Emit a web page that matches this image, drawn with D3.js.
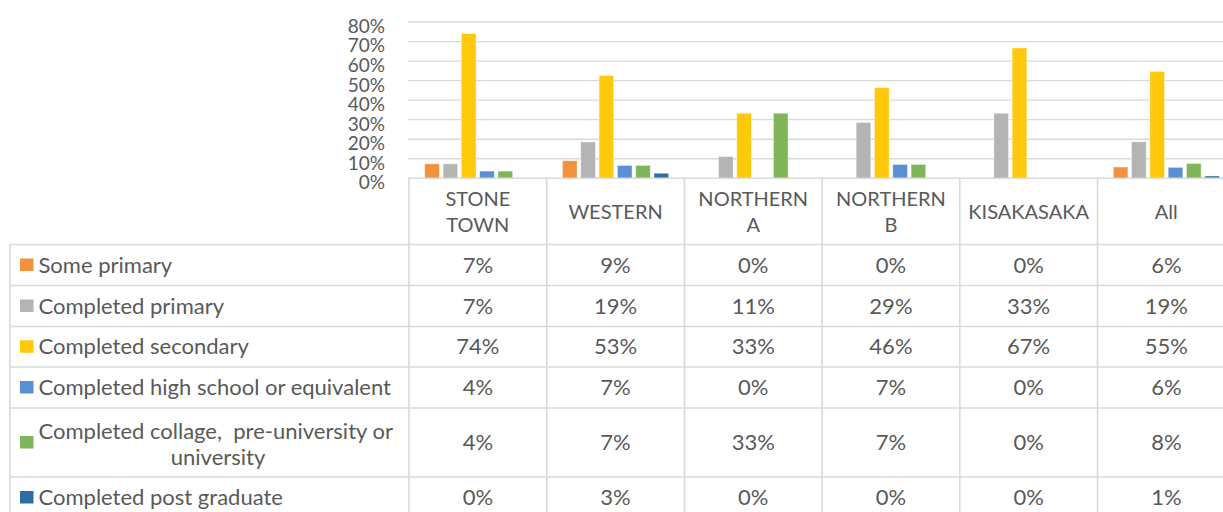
<!DOCTYPE html>
<html>
<head>
<meta charset="utf-8">
<script src="https://cdn.jsdelivr.net/npm/d3@7"></script>
<style>
  body { margin: 0; background: #fff; }
  text { font-family: Lato, "Noto Sans", sans-serif; fill: #595959; white-space: pre; }
</style>
</head>
<body>
<div class="edu-graph"></div>
<script>
const categories = ["STONE TOWN", "WESTERN", "NORTHERN A", "NORTHERN B", "KISAKASAKA", "All"];
const seriesNames = [
  "Some primary",
  "Completed primary",
  "Completed secondary",
  "Completed high school or equivalent",
  "Completed collage,  pre-university or university",
  "Completed post graduate"
];
const somePrimary = [7.4, 9.0, 0, 0, 0, 5.8];
const completedPrimary = [7.4, 18.6, 11.1, 28.6, 33.3, 18.7];
const completedSecondary = [74.1, 52.6, 33.3, 46.4, 66.7, 54.7];
const completedHighSchool = [3.7, 6.6, 0, 7.1, 0, 5.6];
const completedCollege = [3.7, 6.6, 33.3, 7.1, 0, 7.6];
const completedPostGrad = [0, 2.6, 0, 0, 0, 1.2];
const yTicks = [0, 10, 20, 30, 40, 50, 60, 70, 80];
const colors = ["#f4913f", "#b4b4b4", "#ffc80a", "#5b8fd5", "#80b65a", "#2f6da4"];

const seriesValues = [somePrimary, completedPrimary, completedSecondary,
  completedHighSchool, completedCollege, completedPostGrad];

const width = 1223, height = 512;
const plotLeft = 409, colW = 137.7;
const plotTop = 22, plotBottom = 178.3;
const tableLeft = 10;
const rowLines = [244.5, 285.5, 326.5, 367, 408, 477, 518];
const fs = 22;

const svg = d3.select(".edu-graph").append("svg")
  .attr("width", width)
  .attr("height", height);

const x0 = d3.scaleBand()
  .domain(categories)
  .range([plotLeft, plotLeft + colW * categories.length]);

const x1 = d3.scaleBand()
  .domain(d3.range(seriesNames.length))
  .range([0, x0.bandwidth()])
  .paddingInner(0.2)
  .paddingOuter(0.86);

const y = d3.scaleLinear()
  .domain([0, 80])
  .range([plotBottom, plotTop]);

// gridlines
svg.append("g")
  .selectAll("line")
  .data(yTicks.filter(d => d > 0))
  .enter().append("line")
  .attr("x1", plotLeft - 1)
  .attr("x2", width)
  .attr("y1", d => y(d))
  .attr("y2", d => y(d))
  .attr("stroke", "#d9d9d9")
  .attr("stroke-width", 1.3);

// y axis labels
const yAxis = d3.axisLeft(y).tickValues(yTicks).tickFormat(d => d + "%").tickSize(0).tickPadding(24);
const yg = svg.append("g")
  .attr("transform", `translate(${plotLeft},0)`)
  .call(yAxis);
yg.select(".domain").remove();
yg.selectAll("text")
  .attr("font-size", 19)
  .attr("fill", "#595959")
  .attr("font-family", "Lato, sans-serif")
  .attr("dy", "0.55em");

// bars
const groups = svg.append("g")
  .selectAll("g")
  .data(seriesValues)
  .enter().append("g")
  .attr("fill", (d, i) => colors[i]);

groups.selectAll("rect")
  .data((vals, si) => vals.map((v, ci) => ({ v, si, ci })))
  .enter().append("rect")
  .attr("x", d => x0(categories[d.ci]) + x1(d.si))
  .attr("width", x1.bandwidth())
  .attr("y", d => y(d.v))
  .attr("height", d => y(0) - y(d.v))
  .attr("stroke", "#fff")
  .attr("stroke-opacity", 0.5)
  .attr("stroke-width", 0.8);

// table lines
const grid = svg.append("g")
  .attr("stroke", "#d9d9d9")
  .attr("stroke-width", 1.6);

grid.append("line")
  .attr("x1", plotLeft - 1).attr("x2", width)
  .attr("y1", plotBottom).attr("y2", plotBottom);

grid.selectAll(".hline")
  .data(rowLines)
  .enter().append("line")
  .attr("x1", tableLeft).attr("x2", width)
  .attr("y1", d => d).attr("y2", d => d);

grid.selectAll(".vline")
  .data(categories)
  .enter().append("line")
  .attr("x1", d => x0(d)).attr("x2", d => x0(d))
  .attr("y1", plotBottom).attr("y2", height);

grid.append("line")
  .attr("x1", tableLeft).attr("x2", tableLeft)
  .attr("y1", rowLines[0]).attr("y2", height);

// category headers
const headerMid = (plotBottom + rowLines[0]) / 2;
const header = svg.append("g")
  .selectAll("text")
  .data(categories)
  .enter().append("text")
  .attr("text-anchor", "middle")
  .attr("font-size", 20)
  .attr("x", d => x0(d) + x0.bandwidth() / 2)
  .attr("y", headerMid);

header.each(function(d) {
  const words = d.split(" ");
  const t = d3.select(this);
  words.forEach((w, i) => {
    t.append("tspan")
      .attr("x", x0(d) + x0.bandwidth() / 2)
      .attr("dy", i === 0 ? ((1 - words.length) * 26.7 / 2 + 7.5) : 26.7)
      .text(w);
  });
});

// legend column + values
const fmt = d3.format(".0%");
seriesNames.forEach((name, si) => {
  const top = rowLines[si], bottom = rowLines[si + 1];
  const mid = (top + bottom) / 2;
  const twoLine = name.indexOf("university") > 0;

  svg.append("rect")
    .attr("x", 20)
    .attr("y", mid - 6.5)
    .attr("width", 13.5)
    .attr("height", 12.5)
    .attr("fill", colors[si]);

  if (twoLine) {
    const split = name.lastIndexOf(" ");
    svg.append("text")
      .attr("x", 38.5).attr("y", mid + 7.5 - 13.3 + 2)
      .attr("font-size", fs)
      .text(name.slice(0, split));
    svg.append("text")
      .attr("x", 218).attr("y", mid + 7.5 + 13.3 + 2)
      .attr("text-anchor", "middle")
      .attr("font-size", fs)
      .text(name.slice(split + 1));
  } else {
    svg.append("text")
      .attr("x", 38.5).attr("y", mid + 7.5)
      .attr("font-size", fs)
      .text(name);
  }

  svg.append("g")
    .selectAll("text")
    .data(seriesValues[si])
    .enter().append("text")
    .attr("text-anchor", "middle")
    .attr("font-size", fs)
    .attr("x", (d, ci) => x0(categories[ci]) + x0.bandwidth() / 2)
    .attr("y", mid + 7.5)
    .text(d => fmt(d / 100));
});
</script>
</body>
</html>
